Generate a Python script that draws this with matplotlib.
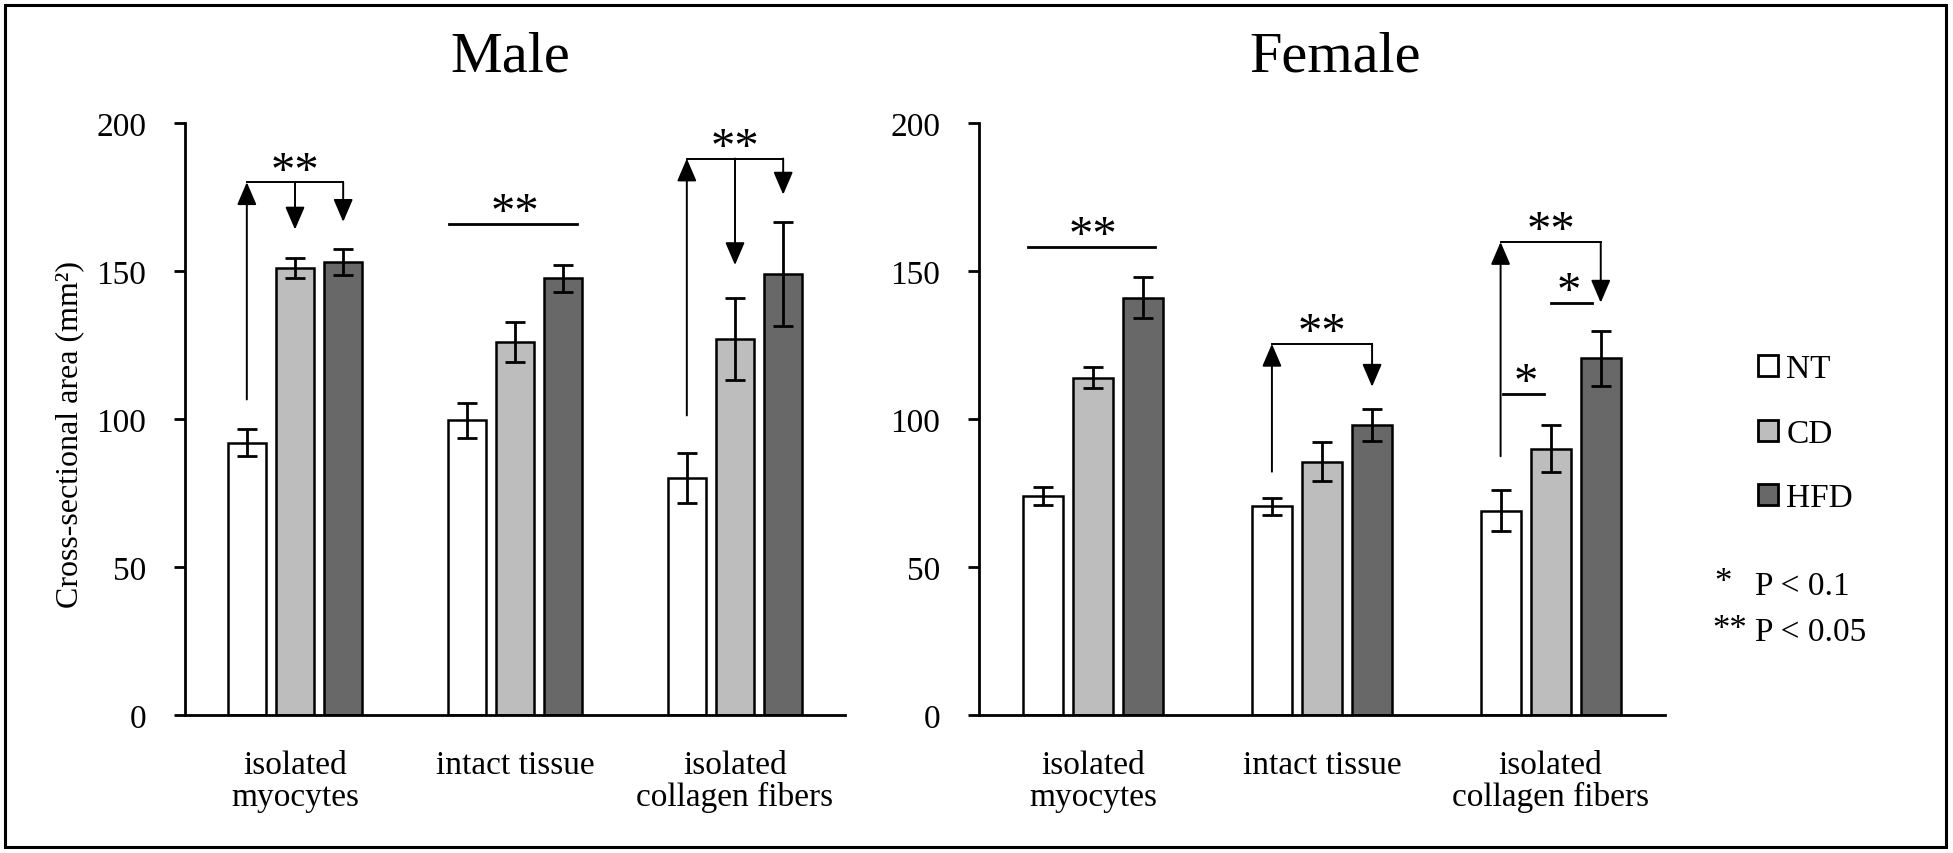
import numpy as np
import matplotlib.pyplot as plt
from matplotlib.patches import Patch, Rectangle

plt.rcParams['font.family'] = ['Liberation Serif', 'DejaVu Serif']

categories = ['isolated\nmyocytes', 'intact tissue', 'isolated\ncollagen fibers']
groups = ['NT', 'CD', 'HFD']
colors = ['#ffffff', '#bdbdbd', '#686868']

male_nt = [92, 99.5, 80]
male_nt_err = [4.5, 5.8, 8.5]
male_cd = [151, 126, 127]
male_cd_err = [3.3, 6.8, 13.8]
male_hfd = [153, 147.5, 149]
male_hfd_err = [4.3, 4.5, 17.5]

female_nt = [74, 70.5, 69]
female_nt_err = [3, 2.8, 7]
female_cd = [114, 85.5, 90]
female_cd_err = [3.4, 6.6, 8]
female_hfd = [141, 98, 120.5]
female_hfd_err = [7, 5.5, 9.3]

# (category, bracket y, up-arrow start y, [(bar index, arrow end y)], label)
male_brackets = [(0, 180, 106.6, [(1, 164), (2, 166.6)], '**'),
                 (2, 188, 101.2, [(1, 152), (2, 175.8)], '**')]
female_brackets = [(1, 125.4, 82.2, [(2, 110.9)], '**'),
                   (2, 159.8, 87.4, [(2, 139.3)], '**')]
# (category, x0, x1, y, label, label x)
male_lines = [(1, -0.30, 0.28, 166, '**', 0.0)]
female_lines = [(0, -0.284, 0.27, 158.2, '**', 0.0),
                (2, -0.21, -0.03, 108.6, '*', -0.11),
                (2, 0.0, 0.18, 139.3, '*', 0.08)]

W, H = 1953, 854
bar_w = 0.175
step = 0.219
star_fs = 35


def draw_panel(ax, vals, errs, brackets, lines):
    x = np.arange(len(categories))
    for i, (v, e) in enumerate(zip(vals, errs)):
        ax.bar(x + (i - 1) * step, v, bar_w, color=colors[i], edgecolor='black',
               linewidth=1.8, yerr=e, error_kw=dict(elinewidth=2, capsize=7.5, capthick=2, ecolor='black'),
               zorder=2)
    ax.set_xlim(-0.5, 2.5)
    ax.set_ylim(0, 200)
    ax.set_yticks([0, 50, 100, 150, 200])
    ax.set_xticks(x)
    ax.set_xticklabels(categories)
    for lbl in ax.get_xticklabels():
        lbl.set_linespacing(1.05)
    ax.tick_params(axis='x', length=0, pad=25, labelsize=24)
    ax.tick_params(axis='y', length=8, width=2, pad=20, labelsize=24)
    for s in ['top', 'right']:
        ax.spines[s].set_visible(False)
    for s in ['left', 'bottom']:
        ax.spines[s].set_linewidth(2)

    arrow = dict(arrowstyle='-|>,head_length=0.7,head_width=0.3', lw=1.4, color='black',
                 mutation_scale=20, shrinkA=0, shrinkB=0)
    for cat, yb, y_up, downs, label in brackets:
        x0 = cat - step
        x1 = cat + (downs[-1][0] - 1) * step
        ax.plot([x0, x1], [yb, yb], color='black', lw=1.4, zorder=3)
        ax.annotate('', xy=(x0, yb), xytext=(x0, y_up), arrowprops=arrow)
        for bi, y_end in downs:
            xb = cat + (bi - 1) * step
            ax.annotate('', xy=(xb, y_end), xytext=(xb, yb), arrowprops=arrow)
        ax.text(cat, yb - 0.5, label, ha='center', va='baseline', fontsize=star_fs)
    for cat, a, b, y, label, lx in lines:
        ax.plot([cat + a, cat + b], [y, y], color='black', lw=2, zorder=3)
        ax.text(cat + lx, y - 0.5, label, ha='center', va='baseline', fontsize=star_fs)


fig = plt.figure(figsize=(W / 100, H / 100), dpi=100)
ax_m = fig.add_axes([185 / W, 138 / H, 660 / W, 592 / H])
ax_f = fig.add_axes([979 / W, 138 / H, 686 / W, 592 / H])

draw_panel(ax_m, [male_nt, male_cd, male_hfd], [male_nt_err, male_cd_err, male_hfd_err],
           male_brackets, male_lines)
draw_panel(ax_f, [female_nt, female_cd, female_hfd], [female_nt_err, female_cd_err, female_hfd_err],
           female_brackets, female_lines)

fig.text(510 / W, 1 - 58 / H, 'Male', ha='center', va='center', fontsize=42)
fig.text(1335 / W, 1 - 58 / H, 'Female', ha='center', va='center', fontsize=42)
fig.text(70 / W, 1 - 435 / H, 'Cross-sectional area (mm²)', rotation=90,
         ha='center', va='center', fontsize=23)

handles = [Patch(facecolor=c, edgecolor='black', linewidth=2) for c in colors]
fig.legend(handles, groups, loc='upper left', bbox_to_anchor=(1758 / W, 1 - 355 / H),
           frameon=False, fontsize=24, handlelength=0.6, handleheight=0.6,
           handletextpad=0.25, labelspacing=1.02, borderpad=0, borderaxespad=0)

fig.text(1714 / W, 1 - 584 / H, '*', ha='left', va='center', fontsize=25)
fig.text(1755 / W, 1 - 587 / H, 'P < 0.1', ha='left', va='center', fontsize=24)
fig.text(1712 / W, 1 - 630 / H, '**', ha='left', va='center', fontsize=25)
fig.text(1755 / W, 1 - 633 / H, 'P < 0.05', ha='left', va='center', fontsize=24)

fig.patches.append(Rectangle((5 / W, 6 / H), 1941 / W, 842 / H, transform=fig.transFigure,
                             fill=False, edgecolor='black', linewidth=2.2))

fig.savefig('out.png', dpi=100)
